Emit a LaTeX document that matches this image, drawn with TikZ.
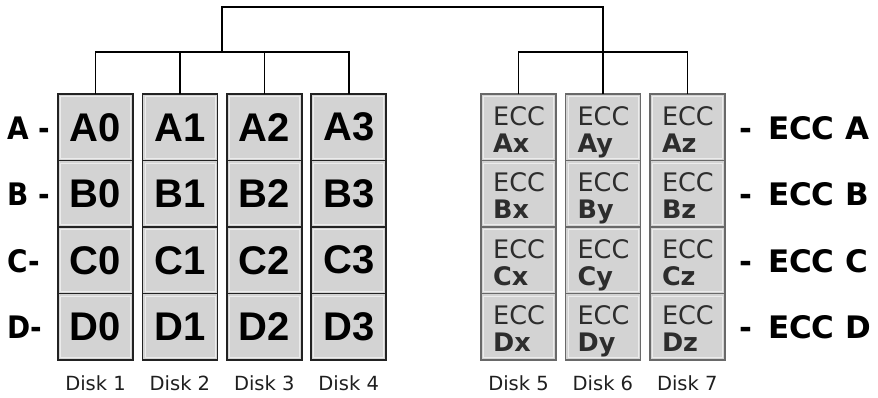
\documentclass[tikz,border=0pt]{standalone}
\usepackage{fontspec}
\setmainfont{Liberation Sans}
\newfontfamily\dv{DejaVu Sans}
\newfontfamily\dvc[FakeStretch=0.9]{DejaVu Sans}
\definecolor{cellgray}{RGB}{211,211,211}
\definecolor{leftbd}{RGB}{34,34,34}
\definecolor{rightbd}{RGB}{105,105,105}
\definecolor{hilite}{RGB}{236,236,236}
\definecolor{ecctext}{RGB}{45,45,45}
\begin{document}
\begin{tikzpicture}[x=1pt,y=-1pt,
  cell/.style={draw=#1, line width=1.6pt, fill=cellgray, minimum width=75pt,
    minimum height=66.5pt, inner sep=0pt, outer sep=0pt},
  big/.style={font=\fontsize{40}{40}\selectfont\bfseries, text=black},
  ecc/.style={font=\dv\fontsize{25.5}{25.5}\selectfont, text=ecctext, inner sep=0pt},
  eccb/.style={font=\dv\bfseries\fontsize{25.5}{25.5}\selectfont, text=ecctext, inner sep=0pt},
  lab/.style={font=\dv\bfseries\fontsize{31}{31}\selectfont, text=black, inner sep=0pt},
  labc/.style={font=\dvc\bfseries\fontsize{31}{31}\selectfont, text=black, inner sep=0pt},
  disk/.style={font=\dv\fontsize{19.5}{19.5}\selectfont, text=black!88, inner sep=0pt},
  hl/.style={draw=hilite, line width=0.8pt},
  conn/.style={line width=1.6pt, draw=black}]
\useasboundingbox (0,0) rectangle (878,397);

% left data cells
\foreach \r [count=\j from 0] in {A,B,C,D} {
  \foreach \i in {0,...,3} {
    \node[cell=leftbd] (\r\i) at ({95.5+84.4*\i},{127.25+66.5*\j}) {};
    \draw[hl] ([shift={(2.5,2.5)}]\r\i.north west) rectangle ([shift={(-2.5,-2.5)}]\r\i.south east);
    \node[big] at (\r\i) {\r\i};
  }
}
% right ECC cells
\foreach \r [count=\j from 0] in {A,B,C,D} {
  \foreach \s [count=\k from 0] in {x,y,z} {
    \node[cell=rightbd] (\r\s) at ({518.5+84.4*\k},{127.25+66.5*\j}) {};
    \draw[hl] ([shift={(2.5,2.5)}]\r\s.north west) rectangle ([shift={(-2.5,-2.5)}]\r\s.south east);
    \node[ecc, anchor=base west] at ([shift={(12,31)}]\r\s.north west) {ECC};
    \node[eccb, anchor=base west] at ([shift={(12,58)}]\r\s.north west) {\r\s};
  }
}

% row labels left
\node[labc, anchor=west] (lA) at (7,128.5) {A -};
\node[labc, anchor=west] (lB) at (7,194.5) {B -};
\node[labc, anchor=west] (lC) at (7,261) {C-};
\node[labc, anchor=west] (lD) at (7,327.5) {D-};
% row labels right
\foreach \r [count=\j from 0] in {A,B,C,D} {
  \node[lab, anchor=west] (e\r) at (739,{128+66.5*\j}) {-\hspace{16pt}ECC \r};
}

% disk labels
\foreach \i in {0,...,3} {
  \pgfmathtruncatemacro{\n}{\i+1}
  \node[disk, anchor=base] (disk\n) at ({95.5+84.4*\i},390) {Disk \n};
}
\foreach \k in {0,1,2} {
  \pgfmathtruncatemacro{\n}{\k+5}
  \node[disk, anchor=base] (disk\n) at ({518.5+84.4*\k},390) {Disk \n};
}

% connectors
\coordinate (hl) at (222,52);
\coordinate (hr) at (603,52);
\coordinate (tl) at (222,7);
\draw[conn] (A0.north) -- (A0.north |- hl) -- (A3.north |- hl) -- (A3.north);
\draw[conn] (A1.north) -- (A1.north |- hl);
\draw[conn] (A2.north) -- (A2.north |- hl);
\draw[conn] (Ax.north) -- (Ax.north |- hr) -- (Az.north |- hr) -- (Az.north);
\draw[conn] (hl) -- (tl) -- (Ay.north |- tl) -- (Ay.north);
\end{tikzpicture}
\end{document}
